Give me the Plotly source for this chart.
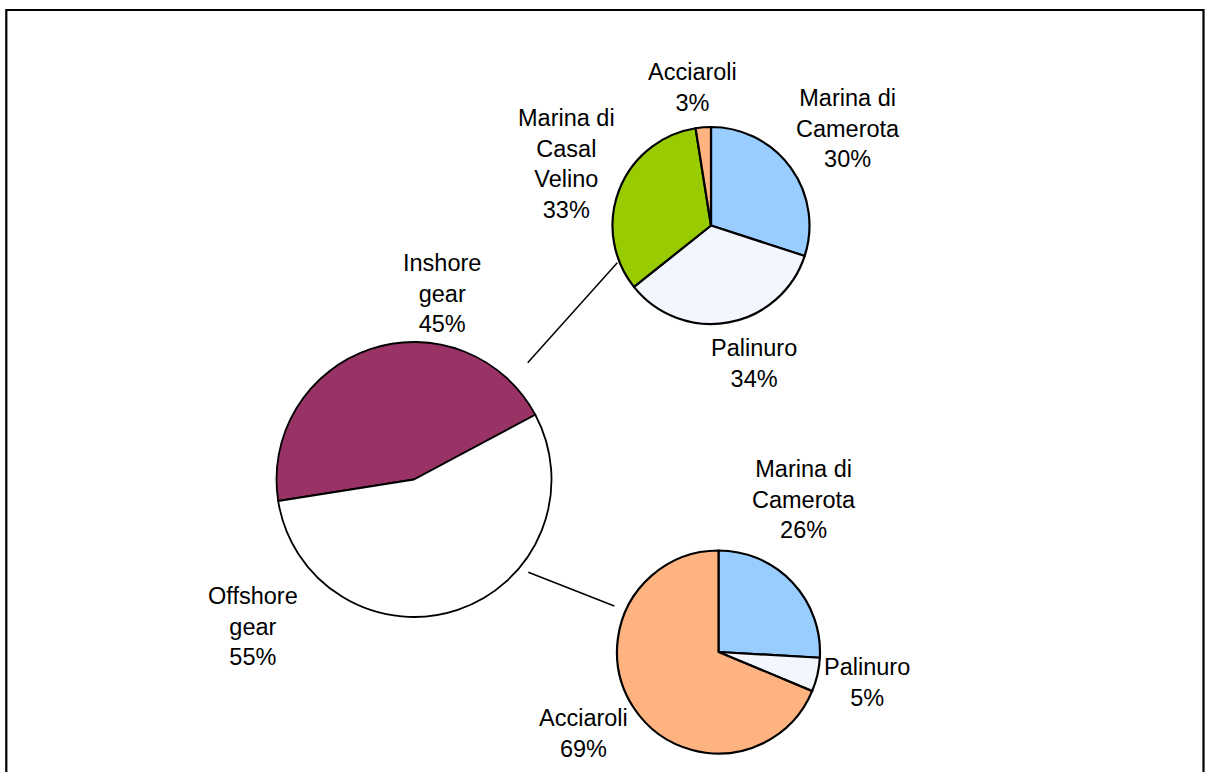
import plotly.graph_objects as go

W, H = 1205, 772

# Main pie
main_labels = ["Inshore gear", "Offshore gear"]
main_values = [44.7, 55.3]
main_pct = ["45%", "55%"]
main_colors = ["#993366", "#FFFFFF"]

# Inshore breakdown (top right)
in_labels = ["Marina di Camerota", "Palinuro", "Marina di Casal Velino", "Acciaroli"]
in_values = [30.0, 34.3, 33.2, 2.5]
in_pct = ["30%", "34%", "33%", "3%"]

# Offshore breakdown (bottom right)
off_labels = ["Marina di Camerota", "Palinuro", "Acciaroli"]
off_values = [25.9, 5.4, 68.7]
off_pct = ["26%", "5%", "69%"]

port_colors = {"Marina di Camerota": "#99CCFF", "Palinuro": "#F4F6FE",
               "Marina di Casal Velino": "#99CC00", "Acciaroli": "#FFB380"}

FONT = "Liberation Sans, Arial, sans-serif"


def dom(cx, cy, r):
    return dict(x=[(cx - r) / W, (cx + r) / W],
                y=[(H - cy - r) / H, (H - cy + r) / H])


fig = go.Figure()
fig.add_trace(go.Pie(labels=main_labels, values=main_values, sort=False,
                     direction="clockwise", rotation=261,
                     marker=dict(colors=main_colors, line=dict(color="black", width=1.8)),
                     textinfo="none", hoverinfo="label+percent",
                     domain=dom(414, 479.5, 137.5), showlegend=False))
fig.add_trace(go.Pie(labels=in_labels, values=in_values, sort=False,
                     direction="clockwise", rotation=0,
                     marker=dict(colors=[port_colors[l] for l in in_labels],
                                 line=dict(color="black", width=2.2)),
                     textinfo="none", hoverinfo="label+percent",
                     domain=dom(711, 225.5, 98.5), showlegend=False))
fig.add_trace(go.Pie(labels=off_labels, values=off_values, sort=False,
                     direction="clockwise", rotation=0,
                     marker=dict(colors=[port_colors[l] for l in off_labels],
                                 line=dict(color="black", width=2.2)),
                     textinfo="none", hoverinfo="label+percent",
                     domain=dom(718.5, 652, 101.5), showlegend=False))


def lab(name, pct, cx, cy, breaks=None):
    txt = (breaks if breaks else name).replace("\n", "<br>") + "<br>" + pct
    fig.add_annotation(x=cx / W, y=1 - cy / H, xref="paper", yref="paper",
                       text=txt, showarrow=False, xanchor="center", yanchor="middle",
                       font=dict(family=FONT, size=23.5, color="black"), align="center")


lab(main_labels[0], main_pct[0], 442, 293, "Inshore\ngear")
lab(main_labels[1], main_pct[1], 253, 626, "Offshore\ngear")

lab(in_labels[0], in_pct[0], 848, 128, "Marina di\nCamerota")
lab(in_labels[1], in_pct[1], 754, 363)
lab(in_labels[2], in_pct[2], 566, 164, "Marina di\nCasal\nVelino")
lab(in_labels[3], in_pct[3], 692, 88)

lab(off_labels[0], off_pct[0], 804, 499, "Marina di\nCamerota")
lab(off_labels[1], off_pct[1], 867, 682)
lab(off_labels[2], off_pct[2], 583, 733)

# connector lines
for (x0, y0, x1, y1) in [(527.7, 362.7, 617.3, 262.7), (528.3, 572.3, 614.3, 606)]:
    fig.add_shape(type="line", xref="paper", yref="paper",
                  x0=x0 / W, y0=1 - y0 / H, x1=x1 / W, y1=1 - y1 / H,
                  line=dict(color="black", width=1.5))

# chart border
fig.add_shape(type="rect", xref="paper", yref="paper",
              x0=6.3 / W, y0=-0.02, x1=1203.5 / W, y1=1 - 10 / H,
              line=dict(color="black", width=2.2))

fig.update_layout(width=W, height=H, margin=dict(l=0, r=0, t=0, b=0),
                  paper_bgcolor="white", plot_bgcolor="white",
                  font=dict(family=FONT, color="black"))

fig.write_html("out.html", config={"displayModeBar": False},
               post_script="document.body.style.margin='0';document.body.style.overflow='hidden';")
